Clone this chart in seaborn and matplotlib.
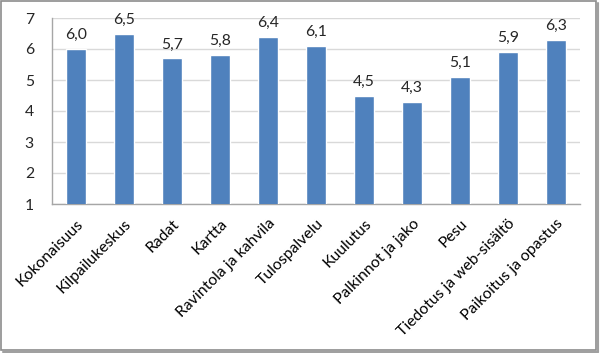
import matplotlib
matplotlib.use("Agg")
import matplotlib.pyplot as plt
import seaborn as sns
import pandas as pd
from matplotlib.patches import Rectangle
from matplotlib.lines import Line2D

categories = ["Kokonaisuus", "Kilpailukeskus", "Radat", "Kartta", "Ravintola ja kahvila",
              "Tulospalvelu", "Kuulutus", "Palkinnot ja jako", "Pesu",
              "Tiedotus ja web-sisältö", "Paikoitus ja opastus"]
values = [6.0, 6.5, 5.7, 5.8, 6.4, 6.1, 4.5, 4.3, 5.1, 5.9, 6.3]

df = pd.DataFrame({"kohde": categories, "arvo": values})

sns.set_style("white")
plt.rcParams['font.family'] = ['Lato', 'DejaVu Sans']

fig = plt.figure(figsize=(6, 3.53), dpi=100)
ax = fig.add_axes([52/600, 1 - 204/353, 528/600, 186/353])

sns.barplot(data=df, x="kohde", y="arvo", color="#4F81BD", saturation=1,
            width=0.4, ax=ax, zorder=3)

ax.set_ylim(1, 7)
ax.set_yticks(range(1, 8))
ax.set_xlim(-0.5, len(categories) - 0.5)
ax.grid(axis="y", color="#D9D9D9", linewidth=1, zorder=0)
ax.set_xlabel("")
ax.set_ylabel("")

for s in ["top", "right"]:
    ax.spines[s].set_visible(False)
for s in ["left", "bottom"]:
    ax.spines[s].set_color("#A6A6A6")
    ax.spines[s].set_linewidth(1)

# tick marks between categories
ax.set_xticks([i - 0.5 for i in range(len(categories) + 1)], minor=True)
ax.tick_params(axis="x", which="minor", length=5, color="#A6A6A6", width=1, direction="out")
ax.tick_params(axis="x", which="major", length=0, pad=9, labelsize=11.3, colors="black")
ax.tick_params(axis="y", length=5, color="#A6A6A6", width=1, direction="out", labelsize=11.3,
               pad=8)
plt.setp(ax.get_xticklabels(), rotation=45, ha="right", rotation_mode="anchor")

for i, v in enumerate(values):
    ax.text(i, v + 0.22, f"{v:.1f}".replace(".", ","), ha="center", va="bottom", fontsize=11.3)

# chart border with a light shadow on right and bottom
fig.patches.append(Rectangle((1/600, 3/353), 595/600, 349/353, transform=fig.transFigure,
                             fill=False, edgecolor="#8C8C8C", linewidth=1.2))
fig.lines.append(Line2D([597.5/600, 597.5/600], [1.5/353, 350/353], transform=fig.transFigure,
                        color="#A0A0A0", linewidth=1.5))
fig.lines.append(Line2D([3/600, 598/600], [1.5/353, 1.5/353], transform=fig.transFigure,
                        color="#A0A0A0", linewidth=1.5))

fig.savefig("out.png", dpi=100)
